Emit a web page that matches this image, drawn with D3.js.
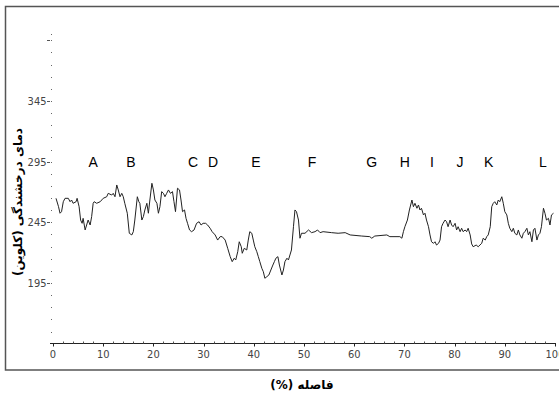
<!DOCTYPE html>
<html>
<head>
<meta charset="utf-8">
<script src="https://cdn.jsdelivr.net/npm/d3@7/dist/d3.min.js"></script>
<style>
  html, body { margin: 0; padding: 0; background: #fff; }
  svg { display: block; }
  .tick-label { font-family: "Liberation Sans Narrow", "DejaVu Sans Condensed", "Arial Narrow", sans-serif; font-size: 11px; fill: #444; }
  .site { font-family: "Liberation Sans", Arial, sans-serif; font-size: 14px; fill: #000; }
  .title { font-family: "DejaVu Sans", sans-serif; font-weight: bold; font-size: 12px; fill: #000; }
</style>
</head>
<body>
<svg id="chart" width="559" height="403"></svg>
<script>
// Distance along the transect (%)
const distance = [
  0.6, 1.1, 1.4, 1.7, 2.05, 2.4, 3.05, 3.4, 3.7, 4.0, 4.6, 4.8, 5.2, 5.5, 5.8, 6.0, 6.4, 6.7, 7.0, 7.4,
  7.7, 8.0, 8.2, 8.7, 9.4, 10.0, 10.7, 11.0, 11.7, 12.0, 12.35, 12.7, 13.0, 13.35, 13.7, 14.0, 14.3, 14.8, 15.2, 15.7,
  16.0, 16.3, 16.8, 17.1, 17.3, 17.7, 18.0, 18.3, 18.7, 19.0, 19.3, 19.7, 20.0, 20.3, 20.7, 21.0, 21.3, 21.65, 22.0, 22.3,
  22.65, 23.0, 23.4, 23.8, 24.1, 24.4, 24.8, 25.2, 25.5, 25.8, 26.2, 26.5, 26.8, 27.2, 27.6, 28.1, 28.6, 29.1, 29.5, 29.9,
  30.4, 30.8, 31.3, 31.7, 32.3, 32.8, 33.3, 33.7, 34.3, 34.8, 35.3, 35.7, 36.1, 36.4, 36.8, 37.1, 37.5, 37.7, 38.1, 38.6,
  38.9, 39.2, 39.6, 39.9, 40.2, 40.6, 40.9, 41.2, 41.6, 41.9, 42.2, 42.6, 43.0, 43.4, 43.8, 44.1, 44.4, 44.8, 45.1, 45.6,
  45.9, 46.2, 46.6, 46.9, 47.2, 47.5, 47.9, 48.2, 48.5, 48.9, 49.2, 49.5, 50.2, 50.9, 51.5, 52.2, 52.7, 53.2, 53.8, 55.5,
  56.8, 58.2, 59.2, 61.5, 63.1, 63.5, 64.1, 66.5, 67.1, 69.1, 69.5, 69.8, 70.1, 70.6, 71.0, 71.5, 71.8, 72.1, 72.5, 72.8,
  73.1, 73.4, 73.8, 74.1, 74.4, 74.8, 75.1, 75.4, 75.8, 76.1, 76.4, 76.8, 77.1, 77.4, 77.7, 78.1, 78.4, 78.7, 79.1, 79.4,
  79.7, 80.1, 80.4, 80.7, 81.1, 81.4, 81.7, 82.1, 82.4, 82.7, 83.1, 83.4, 83.7, 84.3, 84.7, 85.4, 85.7, 86.1, 86.4, 86.7,
  87.1, 87.4, 87.7, 88.0, 88.4, 88.7, 89.0, 89.4, 89.7, 90.0, 90.4, 90.7, 91.0, 91.4, 91.7, 92.0, 92.4, 92.7, 93.0, 93.4,
  93.7, 94.0, 94.4, 94.7, 95.0, 95.4, 95.7, 96.0, 96.4, 96.7, 97.0, 97.3, 97.7, 98.0, 98.3, 98.7, 99.0, 99.3, 99.7
];

// Brightness temperature (K)
const temperature = [
  264.8, 257.9, 252.5, 253.8, 262.0, 264.8, 264.8, 262.0, 263.4, 260.7, 262.0, 264.8, 257.9, 246.9, 244.2, 248.3, 238.7, 242.8, 246.9, 242.8,
  249.7, 260.7, 262.0, 260.7, 262.0, 264.8, 266.1, 268.9, 267.5, 268.9, 266.1, 275.8, 271.7, 266.1, 268.9, 266.1, 260.7, 252.5, 236.0, 234.6,
  237.3, 246.9, 266.1, 262.0, 260.7, 246.9, 249.7, 255.2, 260.7, 252.5, 263.4, 277.2, 271.7, 263.4, 260.7, 252.5, 257.9, 270.3, 268.9, 266.1,
  268.9, 271.7, 268.9, 270.3, 262.0, 253.8, 273.1, 271.7, 263.4, 253.8, 255.2, 248.3, 244.2, 238.7, 237.3, 238.7, 244.2, 245.5, 242.8, 244.2,
  244.2, 242.8, 240.1, 237.3, 234.6, 230.4, 233.2, 233.2, 230.4, 223.6, 216.7, 212.6, 215.4, 214.0, 220.8, 229.0, 224.9, 219.5, 223.6, 222.2,
  230.4, 237.3, 236.0, 230.4, 224.9, 220.8, 216.7, 212.6, 207.1, 204.3, 198.9, 200.2, 201.6, 205.7, 209.8, 212.6, 215.4, 216.7, 209.8, 201.6,
  205.7, 212.6, 215.4, 214.0, 218.1, 222.2, 241.4, 255.2, 253.8, 246.9, 231.9, 236.0, 236.0, 238.7, 236.5, 237.3, 238.7, 236.5, 237.3, 236.5,
  236.0, 236.5, 234.6, 233.7, 233.2, 231.9, 233.7, 234.6, 233.2, 233.2, 231.9, 237.3, 241.4, 246.9, 255.2, 263.4, 257.9, 260.7, 256.6, 259.3,
  255.2, 256.6, 251.1, 252.5, 246.9, 241.4, 234.6, 229.0, 227.7, 229.0, 226.3, 227.7, 230.4, 241.4, 244.2, 246.9, 245.5, 241.4, 246.9, 242.8,
  241.4, 244.2, 238.7, 241.4, 237.3, 240.1, 237.3, 238.7, 237.3, 240.1, 234.6, 227.2, 224.9, 226.3, 224.9, 227.7, 231.9, 230.4, 233.2, 234.6,
  241.4, 257.9, 260.7, 262.0, 259.3, 263.4, 262.0, 266.1, 260.7, 253.8, 251.1, 244.2, 240.1, 237.3, 240.1, 236.0, 234.6, 238.7, 234.6, 231.9,
  236.0, 237.3, 240.1, 234.6, 237.3, 229.0, 238.7, 240.1, 230.4, 234.6, 236.0, 241.4, 256.6, 252.5, 246.9, 248.3, 242.8, 251.1, 252.5
];

// Site markers along the transect
const siteNames = ["A", "B", "C", "D", "E", "F", "G", "H", "I", "J", "K", "L"];
const sitePositions = [8.0, 15.5, 27.9, 31.9, 40.4, 51.6, 63.5, 70.1, 75.5, 81.1, 86.8, 97.6];
const siteLevel = 295;

// Axis ticks
const xTicks = [0, 10, 20, 30, 40, 50, 60, 70, 80, 90, 100];
const yTicks = [195, 245, 295, 345, 395];
const yTickLabels = ["195", "245", "295", "345", ""];

const xTitle = "فاصله (%)";
const yTitle = "دمای درخشندگی (کلوین)";

const svg = d3.select("#chart");

// Outer frame
svg.append("rect")
  .attr("x", 5.5).attr("y", 6.5)
  .attr("width", 580).attr("height", 363.5)
  .attr("fill", "none").attr("stroke", "#555").attr("stroke-width", 1.5);

const x = d3.scaleLinear().domain([0, 100]).range([53, 555]);
const y = d3.scaleLinear().domain([145, 400]).range([343.65, 34.3]);

// X axis
const xAxis = svg.append("g").attr("transform", `translate(0,${343.5})`);
xAxis.append("line")
  .attr("x1", 50).attr("x2", 556)
  .attr("stroke", "#222").attr("stroke-width", 1);
xAxis.selectAll("line.minor")
  .data(d3.range(0, 101, 2).filter(v => v % 10 !== 0))
  .join("line").attr("class", "minor")
  .attr("x1", d => Math.round(x(d)) + 0.5).attr("x2", d => Math.round(x(d)) + 0.5)
  .attr("y1", 0).attr("y2", -2)
  .attr("stroke", "#555");
xAxis.selectAll("line.major")
  .data(xTicks)
  .join("line").attr("class", "major")
  .attr("x1", d => Math.round(x(d)) + 0.5).attr("x2", d => Math.round(x(d)) + 0.5)
  .attr("y1", 0).attr("y2", 3)
  .attr("stroke", "#222");
xAxis.selectAll("text")
  .data(xTicks)
  .join("text").attr("class", "tick-label")
  .attr("x", d => x(d)).attr("y", 14)
  .attr("text-anchor", "middle")
  .text(d => d);

// Y axis: dotted minor marks and short major dashes
const yAxis = svg.append("g");
yAxis.selectAll("rect.minor")
  .data(d3.range(155, 400, 10).concat([400]))
  .join("rect").attr("class", "minor")
  .attr("x", 51).attr("y", d => Math.round(y(d)))
  .attr("width", 1).attr("height", 1)
  .attr("fill", "#666");
yAxis.selectAll("line.major")
  .data(yTicks)
  .join("line").attr("class", "major")
  .attr("x1", 47).attr("x2", 50)
  .attr("y1", d => Math.round(y(d)) + 0.5).attr("y2", d => Math.round(y(d)) + 0.5)
  .attr("stroke", "#555");
yAxis.selectAll("text")
  .data(yTicks)
  .join("text").attr("class", "tick-label")
  .attr("x", 46.5).attr("y", d => y(d) + 4)
  .attr("text-anchor", "end")
  .text((d, i) => yTickLabels[i]);

// Site letters
svg.selectAll("text.site")
  .data(siteNames)
  .join("text").attr("class", "site")
  .attr("x", (d, i) => x(sitePositions[i]))
  .attr("y", y(siteLevel) + 5)
  .attr("text-anchor", "middle")
  .text(d => d);

// Temperature profile
const line = d3.line()
  .x((d, i) => x(distance[i]))
  .y(d => y(d));
svg.append("path")
  .datum(temperature)
  .attr("d", line)
  .attr("fill", "none")
  .attr("stroke", "#222")
  .attr("stroke-width", 1)
  .attr("stroke-linejoin", "round");

// Axis titles
svg.append("text").attr("class", "title")
  .attr("x", 302).attr("y", 389)
  .attr("text-anchor", "middle")
  .attr("direction", "rtl")
  .text(xTitle);

svg.append("text").attr("class", "title")
  .attr("transform", "translate(22,202) rotate(-90)")
  .attr("text-anchor", "middle")
  .attr("direction", "rtl")
  .text(yTitle);
</script>
</body>
</html>
